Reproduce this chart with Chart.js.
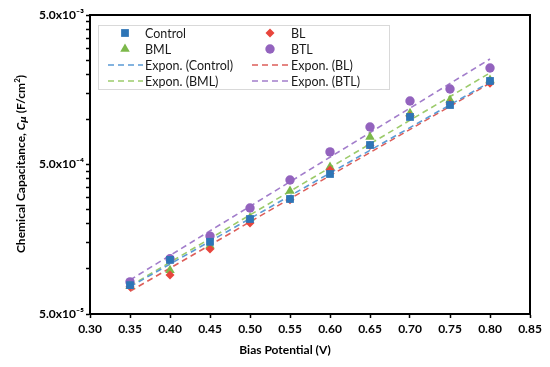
<!DOCTYPE html>
<html>
<head>
<meta charset="utf-8">
<script src="https://cdn.jsdelivr.net/npm/chart.js@4"></script>
<style>
  html, body { margin: 0; background: #fff; }
</style>
</head>
<body>
<canvas id="grafico" width="550" height="367"></canvas>
<script>
// Dados
const potencial = [0.35, 0.40, 0.45, 0.50, 0.55, 0.60, 0.65, 0.70, 0.75, 0.80];
const control = [7.8e-5, 1.15e-4, 1.52e-4, 2.16e-4, 2.94e-4, 4.32e-4, 6.75e-4, 1.04e-3, 1.25e-3, 1.81e-3];
const bml     = [7.7e-5, 9.8e-5, 1.43e-4, 2.2e-4, 3.33e-4, 4.81e-4, 7.64e-4, 1.10e-3, 1.35e-3, 1.84e-3];
const bl      = [7.6e-5, 9.1e-5, 1.36e-4, 2.03e-4, 2.9e-4, 4.6e-4, 6.7e-4, 1.05e-3, 1.27e-3, 1.75e-3];
const btl     = [8.2e-5, 1.17e-4, 1.66e-4, 2.56e-4, 3.94e-4, 6.07e-4, 8.91e-4, 1.33e-3, 1.60e-3, 2.21e-3];

// Linhas de tendência (extremos)
const trendX = [0.35, 0.80];
const trendControl = [7.6e-5, 1.78e-3];
const trendBml     = [7.7e-5, 2.05e-3];
const trendBl      = [7.1e-5, 1.75e-3];
const trendBtl     = [8.44e-5, 2.54e-3];

// Eixos
const xTicks = [0.30, 0.35, 0.40, 0.45, 0.50, 0.55, 0.60, 0.65, 0.70, 0.75, 0.80, 0.85];
const yMajor = [5e-5, 5e-4, 5e-3];
const yLabels = ["5.0x10\u207B\u2075", "5.0x10\u207B\u2074", "5.0x10\u207B\u00B3"];

const pontos = (ys, xs = potencial) => xs.map((x, i) => ({ x: x, y: ys[i] }));

const serie = (label, ys, cor, estilo, raio) => ({
  label: label,
  data: pontos(ys),
  showLine: false,
  pointStyle: estilo,
  pointRadius: raio,
  pointHoverRadius: raio,
  backgroundColor: cor,
  borderColor: cor,
  pointBorderWidth: 0
});

const tendencia = (label, ys, cor) => ({
  label: label,
  data: pontos(ys, trendX),
  showLine: true,
  pointRadius: 0,
  borderColor: cor,
  borderWidth: 1.6,
  borderDash: [6, 4],
  fill: false
});

const datasets = [
  serie("Control", control, "#2E75B6", "rect", 5.5),
  serie("BL", bl, "#E8453C", "rectRot", 4.5),
  serie("BML", bml, "#7CB84A", "triangle", 5.5),
  serie("BTL", btl, "#9363BE", "circle", 4.7),
  tendencia("Expon. (Control)", trendControl, "#5B9BD5"),
  tendencia("Expon. (BL)", trendBl, "#DD5E5A"),
  tendencia("Expon. (BML)", trendBml, "#9CCB6B"),
  tendencia("Expon. (BTL)", trendBtl, "#A27DCB")
];

// Moldura, legenda e títulos dos eixos
const extras = {
  id: "extras",
  afterDraw(chart) {
    const ctx = chart.ctx;
    const a = chart.chartArea;
    ctx.save();
    ctx.strokeStyle = "#000";
    ctx.lineWidth = 2;
    ctx.strokeRect(a.left, a.top, a.right - a.left, a.bottom - a.top);

    // legenda
    ctx.fillStyle = "#fff";
    ctx.fillRect(98, 25, 291, 64);
    ctx.strokeStyle = "#d9d9d9";
    ctx.lineWidth = 1;
    ctx.strokeRect(98.5, 25.5, 291, 64);
    const colX = [{ m: 125, l0: 108, l1: 143, t: 145 }, { m: 270, l0: 252, l1: 289, t: 291 }];
    const rowY = [33, 49, 65, 81];
    ctx.font = "12.5px Lato";
    ctx.textBaseline = "middle";
    chart.data.datasets.forEach((ds, i) => {
      const c = colX[i % 2];
      const y = rowY[Math.floor(i / 2)];
      if (ds.showLine) {
        ctx.strokeStyle = ds.borderColor;
        ctx.lineWidth = 1.6;
        ctx.setLineDash([6, 4]);
        ctx.beginPath();
        ctx.moveTo(c.l0, y);
        ctx.lineTo(c.l1, y);
        ctx.stroke();
        ctx.setLineDash([]);
      } else {
        ctx.fillStyle = ds.backgroundColor;
        Chart.helpers.drawPoint(ctx, { pointStyle: ds.pointStyle, radius: ds.pointRadius, rotation: 0, borderWidth: 0 }, c.m, y);
      }
      ctx.fillStyle = "#1a1a1a";
      ctx.textAlign = "left";
      ctx.font = "12.5px Lato";
      ctx.fillText(ds.label, c.t, y + 0.5);
    });

    // título eixo x
    ctx.fillStyle = "#000";
    ctx.font = "bold 12px Lato";
    ctx.textAlign = "center";
    ctx.fillText("Bias Potential (V)", 285, 350);

    // título eixo y (com C itálico, índice e expoente)
    const partes = [
      { t: "Chemical Capacitance, ", f: "bold 12px Lato", dy: 0 },
      { t: "C", f: "italic bold 12px Lato", dy: 0 },
      { t: "\u03BC", f: "italic bold 9px 'DejaVu Sans'", dy: 3 },
      { t: " (F/cm", f: "bold 12px Lato", dy: 0 },
      { t: "2", f: "bold 8px Lato", dy: -4 },
      { t: ")", f: "bold 12px Lato", dy: 0 }
    ];
    let total = 0;
    partes.forEach(p => { ctx.font = p.f; p.w = ctx.measureText(p.t).width; total += p.w; });
    ctx.translate(21, 164);
    ctx.rotate(-Math.PI / 2);
    ctx.textAlign = "left";
    let x = -total / 2;
    partes.forEach(p => {
      ctx.font = p.f;
      ctx.fillText(p.t, x, p.dy);
      x += p.w;
    });
    ctx.restore();
  }
};

new Chart(document.getElementById("grafico"), {
  type: "scatter",
  data: { datasets: datasets },
  options: {
    responsive: false,
    animation: false,
    layout: { padding: { top: 15, right: 20, bottom: 0, left: 0 } },
    scales: {
      x: {
        type: "linear",
        min: 0.30,
        max: 0.85,
        afterBuildTicks: (scale) => { scale.ticks = xTicks.map(v => ({ value: v })); },
        afterFit: (scale) => { scale.height = 53; },
        ticks: {
          autoSkip: false,
          maxRotation: 0,
          padding: 4,
          color: "#000",
          font: { family: "Lato", size: 12, weight: "bold" },
          callback: (v) => Number(v).toFixed(2)
        },
        grid: { drawOnChartArea: false, drawTicks: true, tickLength: 4, tickColor: "#000", tickWidth: 1.5 },
        border: { display: true, color: "#000", width: 2 }
      },
      y: {
        type: "logarithmic",
        min: 5e-5,
        max: 5e-3,
        afterBuildTicks: (scale) => {
          const t = [];
          yMajor.forEach((m, i) => {
            t.push({ value: m });
            if (i < yMajor.length - 1) {
              for (let k = 2; k <= 9; k++) t.push({ value: m * k });
            }
          });
          scale.ticks = t;
        },
        afterFit: (scale) => { scale.width = 90; },
        ticks: {
          autoSkip: false,
          padding: 2,
          color: "#000",
          font: { family: "Lato", size: 12, weight: "bold" },
          callback: (v) => {
            const i = yMajor.findIndex(m => Math.abs(v / m - 1) < 1e-6);
            return i >= 0 ? yLabels[i] : "";
          }
        },
        grid: { drawOnChartArea: false, drawTicks: true, tickLength: 4, tickColor: "#000", tickWidth: 1.5 },
        border: { display: true, color: "#000", width: 2 }
      }
    },
    plugins: {
      legend: { display: false },
      tooltip: { enabled: false }
    }
  },
  plugins: [extras]
});
</script>
</body>
</html>
